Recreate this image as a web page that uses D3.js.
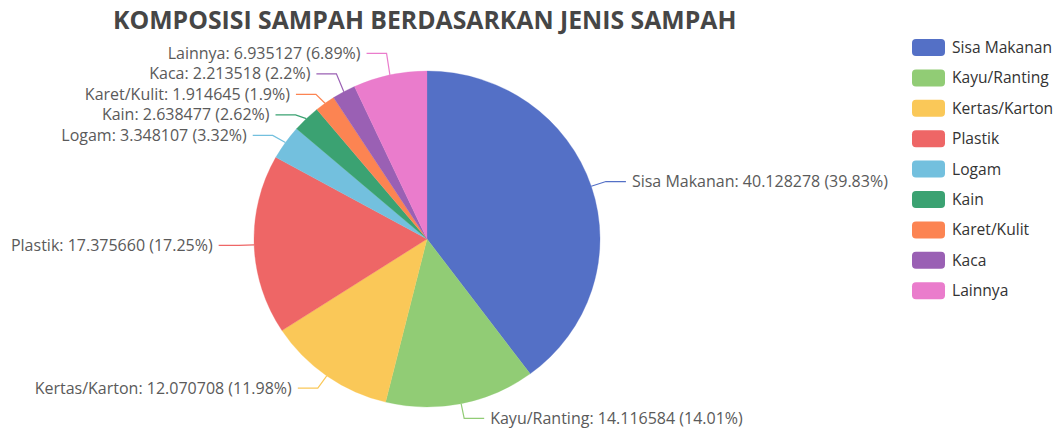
<!DOCTYPE html>
<html>
<head>
<meta charset="utf-8">
<script src="https://cdn.jsdelivr.net/npm/d3@7"></script>
<style>
  html, body { margin: 0; padding: 0; background: #fff; }
  svg { display: block; }
  text { font-family: "Open Sans", "Noto Sans", sans-serif; }
</style>
</head>
<body>
<svg id="chart" width="1058" height="428"></svg>
<script>
const title = "KOMPOSISI SAMPAH BERDASARKAN JENIS SAMPAH";
const categories = ["Sisa Makanan", "Kayu/Ranting", "Kertas/Karton", "Plastik", "Logam", "Kain", "Karet/Kulit", "Kaca", "Lainnya"];
const values = [40.128278, 14.116584, 12.070708, 17.375660, 3.348107, 2.638477, 1.914645, 2.213518, 6.935127];
const percents = ["39.83", "14.01", "11.98", "17.25", "3.32", "2.62", "1.9", "2.2", "6.89"];
const valueLabels = ["40.128278", "14.116584", "12.070708", "17.375660", "3.348107", "2.638477", "1.914645", "2.213518", "6.935127"];
const colors = ["#5470c6", "#91cc75", "#fac858", "#ee6666", "#73c0de", "#3ba272", "#fc8452", "#9a60b4", "#ea7ccc"];

const svg = d3.select("#chart");
const cx = 427, cy = 239;
const R = 168, sx = 173 / 168;   // slight horizontal stretch seen in reference
const len1 = 15, len2 = 20, gap = 6, spacing = 20.5;

const data = categories.map((c, i) => ({ name: c, value: values[i], pct: percents[i], vlab: valueLabels[i], color: colors[i] }));
const pie = d3.pie().sort(null).value(d => d.value);
const arcs = pie(data);
const arc = d3.arc().innerRadius(0).outerRadius(R);

// title
svg.append("text")
  .attr("x", 113).attr("y", 29)
  .attr("font-size", 24.8).attr("font-weight", 700)
  .attr("fill", "#464646")
  .text(title);

const g = svg.append("g").attr("transform", `translate(${cx},${cy}) scale(${sx},1)`);
g.selectAll("path").data(arcs).join("path")
  .attr("d", arc)
  .attr("fill", d => d.data.color)
  .attr("stroke", d => d.data.color)
  .attr("stroke-width", 0.3);

// label geometry
const pt = (a, r) => [cx + sx * r * Math.sin(a), cy - r * Math.cos(a)];
const labels = arcs.map(a => {
  const m = (a.startAngle + a.endAngle) / 2;
  const p0 = pt(m, R);
  const p1 = pt(m, R + len1);
  const right = Math.sin(m) >= 0;
  return { a, m, p0, p1, right, y: p1[1], ny: p1[1] };
});

function relax(side) {
  const items = labels.filter(l => l.right === side).sort((a, b) => a.ny - b.ny);
  let groups = items.map(l => [l]);
  const place = grp => {
    const mean = d3.mean(grp, l => l.ny);
    const n = grp.length;
    grp.forEach((l, i) => { l.y = mean + (i - (n - 1) / 2) * spacing; });
  };
  groups.forEach(place);
  let changed = true;
  while (changed) {
    changed = false;
    for (let i = 0; i < groups.length - 1; i++) {
      const a = groups[i], b = groups[i + 1];
      if (b[0].y - a[a.length - 1].y < spacing) {
        const merged = a.concat(b);
        place(merged);
        groups.splice(i, 2, merged);
        changed = true;
        break;
      }
    }
  }
}
relax(true); relax(false);

const lg = svg.append("g");
labels.forEach(l => {
  const p1 = [l.p1[0], l.y];
  const p2 = [p1[0] + (l.right ? len2 : -len2), l.y];
  lg.append("path")
    .attr("d", d3.line()([l.p0, p1, p2]))
    .attr("fill", "none")
    .attr("stroke", l.a.data.color)
    .attr("stroke-width", 1.2);
  lg.append("text")
    .attr("x", p2[0] + (l.right ? gap : -gap))
    .attr("y", l.y)
    .attr("dy", "0.35em")
    .attr("text-anchor", l.right ? "start" : "end")
    .attr("font-size", 16)
    .attr("fill", "#5a5a5a")
    .text(`${l.a.data.name}: ${l.a.data.vlab} (${l.a.data.pct}%)`);
});

// legend
const leg = svg.append("g").attr("transform", "translate(912,39)");
const li = leg.selectAll("g").data(data).join("g")
  .attr("transform", (d, i) => `translate(0,${i * 30.4})`);
li.append("rect").attr("width", 33).attr("height", 17).attr("rx", 4)
  .attr("fill", d => d.color);
li.append("text").attr("x", 40).attr("y", 8.5).attr("dy", "0.35em")
  .attr("font-size", 15.6).attr("fill", "#333")
  .text(d => d.name);
</script>
</body>
</html>
